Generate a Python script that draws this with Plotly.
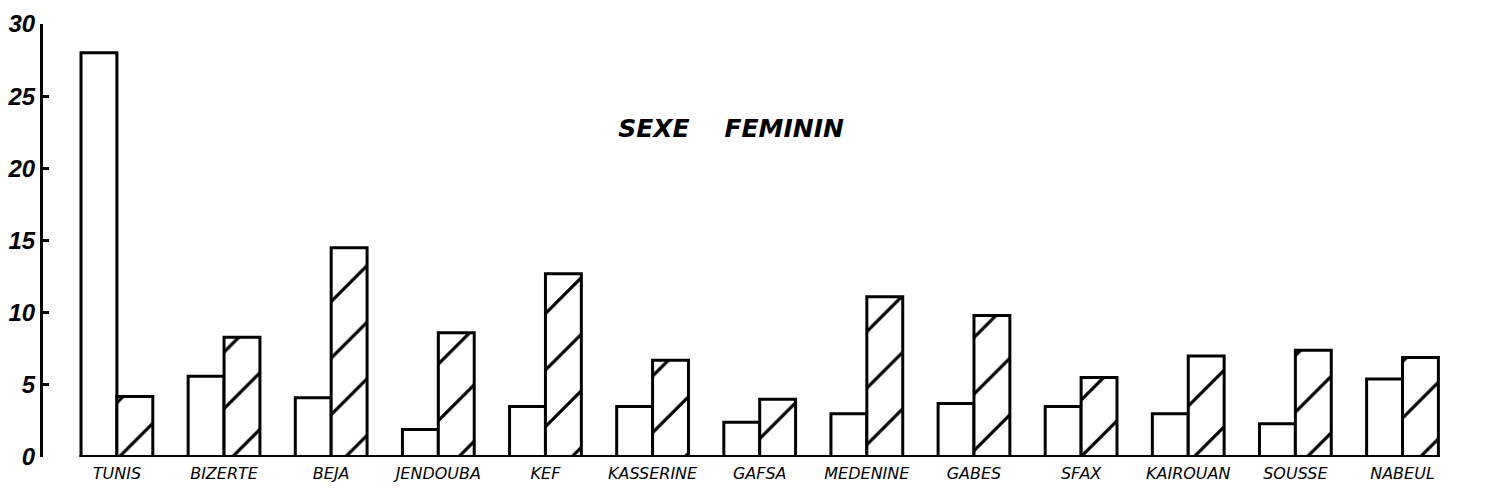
import plotly.graph_objects as go

# gouvernorats (axe des x)
gouvernorats = ["TUNIS", "BIZERTE", "BEJA", "JENDOUBA", "KEF", "KASSERINE", "GAFSA",
                "MEDENINE", "GABES", "SFAX", "KAIROUAN", "SOUSSE", "NABEUL"]

# barres blanches
serie_blanche = [28.0, 5.6, 4.1, 1.9, 3.5, 3.5, 2.4, 3.0, 3.7, 3.5, 3.0, 2.3, 5.4]
# barres hachurees
serie_hachuree = [4.2, 8.3, 14.5, 8.6, 12.7, 6.7, 4.0, 11.1, 9.8, 5.5, 7.0, 7.4, 6.9]

y_ticks = [0, 5, 10, 15, 20, 25, 30]

fig = go.Figure()

fig.add_trace(go.Bar(
    x=gouvernorats, y=serie_blanche,
    marker=dict(color="white", line=dict(color="black", width=3)),
    showlegend=False,
))

fig.add_trace(go.Bar(
    x=gouvernorats, y=serie_hachuree,
    marker=dict(color="white", line=dict(color="black", width=3),
                pattern=dict(shape="/", size=40, solidity=0.08, fillmode="replace",
                             fgcolor="black", bgcolor="white", fgopacity=1)),
    showlegend=False,
))

# ligne de base
fig.add_shape(type="line", xref="x", yref="y", x0=-0.35, x1=12.35, y0=0, y1=0,
              line=dict(color="black", width=4))

fig.update_layout(
    width=1490, height=499,
    margin=dict(l=35, r=58, t=16, b=50),
    paper_bgcolor="white", plot_bgcolor="white",
    barmode="group", bargap=0.33, bargroupgap=0,
    title=dict(text="SEXE\u00a0\u00a0\u00a0\u00a0FEMININ",
               x=723 / 1490, xanchor="center", y=1 - 120 / 499, yanchor="middle",
               font=dict(family="DejaVu Sans", size=25, style="italic", weight="bold", color="black")),
)

fig.update_xaxes(
    range=[-0.69, 12.35], showline=False, showgrid=False, zeroline=False,
    ticks="", ticklabelstandoff=5, automargin=False,
    tickfont=dict(family="DejaVu Sans", size=16, style="italic", color="black"),
)

fig.update_yaxes(
    range=[0, 30], tickvals=y_ticks, showgrid=False, zeroline=False, automargin=False,
    showline=True, linecolor="black", linewidth=3,
    ticks="inside", ticklen=6, tickwidth=3, tickcolor="black",
    tickfont=dict(family="Liberation Sans", size=24, style="italic", weight="bold", color="black"),
)

fig.write_html("out.html")
